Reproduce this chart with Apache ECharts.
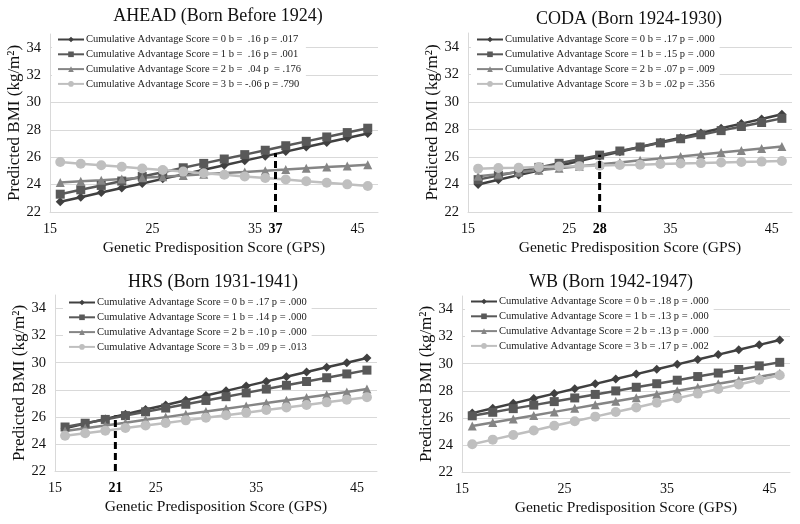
<!DOCTYPE html>
<html>
<head>
<meta charset="utf-8">
<script src="https://cdn.jsdelivr.net/npm/echarts@6/dist/echarts.min.js"></script>
<style>html,body{margin:0;padding:0;background:#fff;}#c{width:800px;height:524px;}</style>
</head>
<body>
<div id="c"></div>
<script>
// ---- data ----
var gps = [16,18,20,22,24,26,28,30,32,34,36,38,40,42,44,46];
var xTickLabels = [15,25,35,45];
var yMin = 22, yMax = 35, yStep = 2;

var panelTitles = ['AHEAD (Born Before 1924)','CODA (Born 1924-1930)','HRS (Born 1931-1941)','WB (Born 1942-1947)'];

var aheadNames = ['Cumulative Advantage Score = 0 b =  .16 p = .017','Cumulative Advantage Score = 1 b =  .16 p = .001','Cumulative Advantage Score = 2 b =  .04 p  = .176','Cumulative Advantage Score = 3 b = -.06 p = .790'];
var codaNames = ['Cumulative Advantage Score = 0 b = .17 p = .000','Cumulative Advantage Score = 1 b = .15 p = .000','Cumulative Advantage Score = 2 b = .07 p = .009','Cumulative Advantage Score = 3 b = .02 p = .356'];
var hrsNames = ['Cumulative Advantage Score = 0 b = .17 p = .000','Cumulative Advantage Score = 1 b = .14 p = .000','Cumulative Advantage Score = 2 b = .10 p = .000','Cumulative Advantage Score = 3 b = .09 p = .013'];
var wbNames = ['Cumulative Advantage Score = 0 b = .18 p = .000','Cumulative Advantage Score = 1 b = .13 p = .000','Cumulative Advantage Score = 2 b = .13 p = .000','Cumulative Advantage Score = 3 b = .17 p = .002'];

var ahead0 = [22.75,23.08,23.42,23.75,24.08,24.42,24.75,25.08,25.42,25.75,26.08,26.41,26.75,27.08,27.41,27.74];
var ahead1 = [23.30,23.62,23.94,24.26,24.59,24.91,25.23,25.55,25.87,26.19,26.51,26.84,27.16,27.48,27.80,28.12];
var ahead2 = [24.15,24.24,24.32,24.41,24.50,24.58,24.67,24.76,24.84,24.93,25.02,25.10,25.19,25.28,25.36,25.45];
var ahead3 = [25.65,25.53,25.42,25.30,25.18,25.07,24.95,24.83,24.72,24.60,24.48,24.37,24.25,24.13,24.02,23.90];

var coda0 = [24.00,24.34,24.68,25.02,25.36,25.70,26.04,26.38,26.72,27.06,27.40,27.74,28.08,28.42,28.76,29.10];
var coda1 = [24.35,24.65,24.94,25.24,25.54,25.83,26.13,26.43,26.72,27.02,27.32,27.61,27.91,28.21,28.50,28.80];
var coda2 = [24.60,24.74,24.89,25.03,25.17,25.32,25.46,25.60,25.75,25.89,26.03,26.18,26.32,26.46,26.61,26.75];
var coda3 = [25.15,25.19,25.22,25.26,25.30,25.33,25.37,25.41,25.44,25.48,25.52,25.55,25.59,25.63,25.66,25.70];

var hrs0 = [25.15,25.50,25.84,26.19,26.54,26.88,27.23,27.58,27.92,28.27,28.62,28.96,29.31,29.66,30.00,30.35];
var hrs1 = [25.25,25.53,25.81,26.09,26.37,26.65,26.93,27.21,27.49,27.77,28.05,28.33,28.61,28.89,29.17,29.45];
var hrs2 = [24.95,25.16,25.36,25.57,25.78,25.98,26.19,26.40,26.60,26.81,27.02,27.22,27.43,27.64,27.84,28.05];
var hrs3 = [24.60,24.79,24.98,25.17,25.36,25.55,25.74,25.93,26.12,26.31,26.50,26.69,26.88,27.07,27.26,27.45];

var wb0 = [26.35,26.71,27.07,27.43,27.79,28.15,28.51,28.87,29.23,29.59,29.95,30.31,30.67,31.03,31.39,31.75];
var wb1 = [26.15,26.41,26.68,26.94,27.20,27.47,27.73,27.99,28.26,28.52,28.78,29.05,29.31,29.57,29.84,30.10];
var wb2 = [25.40,25.66,25.92,26.18,26.44,26.70,26.96,27.22,27.48,27.74,28.00,28.26,28.52,28.78,29.04,29.30];
var wb3 = [24.05,24.39,24.73,25.07,25.41,25.75,26.09,26.43,26.77,27.11,27.45,27.79,28.13,28.47,28.81,29.15];

// dashed reference line: GPS value and height reached (null = none)
var markGps = [37, 28, 21, null];
var markTop = [26.3, 26.15, 26.1, null];

// ---- layout/styles ----
var FONT = '"Liberation Serif","Times New Roman",serif';
var colors = ['#404040','#595959','#858585','#bfbfbf'];
var symbols = ['diamond','rect','triangle','circle'];
var symSizes = [9,9,9,10];
var grids = [
  {left:50, top:34, width:328, height:178},
  {left:468, top:33, width:324, height:179},
  {left:55, top:295, width:322, height:176},
  {left:462, top:296, width:328, height:176}
];
var titlePos = [[218,7],[629,10],[213,273],[611,273]];
var legendPos = [[52,31],[471,31],[63,294],[465,293]];

var panels = [
  {names: aheadNames, data:[ahead0,ahead1,ahead2,ahead3]},
  {names: codaNames, data:[coda0,coda1,coda2,coda3]},
  {names: hrsNames, data:[hrs0,hrs1,hrs2,hrs3]},
  {names: wbNames, data:[wb0,wb1,wb2,wb3]}
];

var option = {
  animation:false,
  backgroundColor:'#fff',
  title:[], grid:[], xAxis:[], yAxis:[], legend:[], series:[]
};

panels.forEach(function(p, i){
  option.title.push({
    text: panelTitles[i], left: titlePos[i][0], top: titlePos[i][1], textAlign:'center', padding:0,
    textStyle:{fontFamily:FONT, fontSize:18, fontWeight:'normal', color:'#111'}
  });
  option.grid.push(Object.assign({containLabel:false}, grids[i]));
  var special = markGps[i];
  option.xAxis.push({
    type:'value', gridIndex:i, min:15, max:47, interval:1,
    name:'Genetic Predisposition Score (GPS)', nameLocation:'middle', nameGap:28,
    nameTextStyle:{fontFamily:FONT, fontSize:15.5, color:'#111'},
    axisLine:{show:true, lineStyle:{color:'#d9d9d9', width:1}},
    axisTick:{show:false},
    splitLine:{show:false},
    axisLabel:{
      fontFamily:FONT, fontSize:14, color:'#111', margin:10,
      formatter:function(v){
        if (special !== null && v === special) return '{b|' + v + '}';
        if (xTickLabels.indexOf(v) >= 0) return String(v);
        return '';
      },
      rich:{b:{fontFamily:FONT, fontSize:14, fontWeight:'bold', color:'#000'}}
    }
  });
  option.yAxis.push({
    type:'value', gridIndex:i, min:yMin, max:yMax, interval:yStep,
    name:'Predicted BMI (kg/m²)', nameLocation:'middle', nameGap:27,
    nameTextStyle:{fontFamily:FONT, fontSize:17, color:'#111'},
    axisLine:{show:true, lineStyle:{color:'#d9d9d9', width:1}},
    axisTick:{show:false},
    splitLine:{show:true, showMinLine:false, showMaxLine:false, lineStyle:{color:'#d9d9d9', width:1}},
    axisLabel:{
      fontFamily:FONT, fontSize:14.5, color:'#111', margin:9,
      formatter:function(v){ return v === yMax ? '' : String(v); }
    }
  });
  option.legend.push({
    orient:'vertical', left:legendPos[i][0], top:legendPos[i][1],
    padding:[2,5], itemGap:1.8, itemWidth:26, itemHeight:7,
    backgroundColor:'#fff',
    data: p.names,
    textStyle:{fontFamily:FONT, fontSize:10.5, color:'#222', lineHeight:13, padding:[0,0,0,-3]}
  });
  p.data.forEach(function(arr, k){
    option.series.push({
      type:'line', name:p.names[k], xAxisIndex:i, yAxisIndex:i,
      data: gps.map(function(g, j){ return [g, arr[j]]; }),
      symbol:symbols[k], symbolSize:symSizes[k], showSymbol:true,
      lineStyle:{color:colors[k], width:2.5},
      itemStyle:{color:colors[k]},
      emphasis:{disabled:true}
    });
  });
  if (special !== null) {
    option.series.push({
      type:'line', name:'ref'+i, xAxisIndex:i, yAxisIndex:i,
      data:[[special, yMin],[special, markTop[i]]],
      symbol:'none', lineStyle:{color:'#000', width:3, type:[7,4]},
      z:5, emphasis:{disabled:true}
    });
  }
});

var chart = echarts.init(document.getElementById('c'), null, {renderer:'canvas'});
chart.setOption(option);
</script>
</body>
</html>
